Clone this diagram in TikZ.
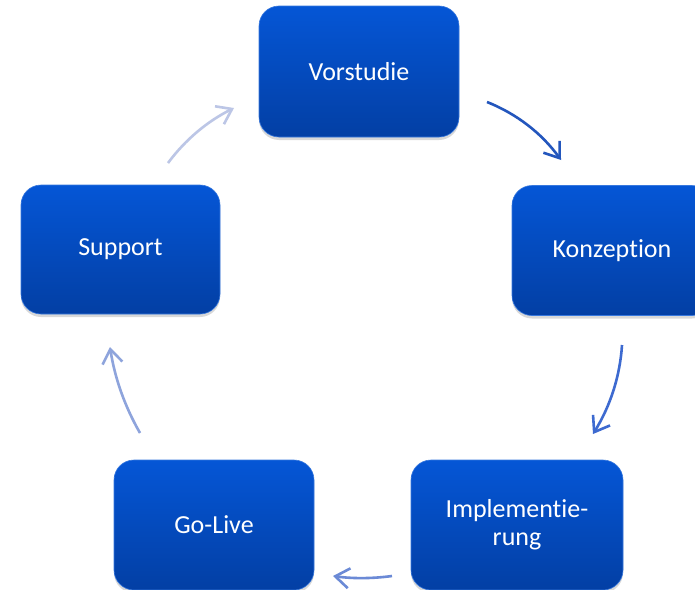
\documentclass[tikz,border=0pt]{standalone}
\usepackage{fontspec}
\setmainfont{Carlito}[Ligatures=NoCommon]
\usetikzlibrary{arrows.meta,shadows}
\definecolor{boxtop}{HTML}{0556D6}
\definecolor{boxbot}{HTML}{033FA4}
\definecolor{arrA}{HTML}{2356BD}
\definecolor{arrB}{HTML}{3D6AD0}
\definecolor{arrC}{HTML}{6B8AD6}
\definecolor{arrD}{HTML}{8EA4DC}
\definecolor{arrE}{HTML}{BCC6E6}
\tikzset{
  phase/.style={rectangle, rounded corners=20pt, top color=boxtop, bottom color=boxbot,
    draw=boxtop!80!white, line width=0.6pt, text=white, align=center,
    font=\fontsize{26}{28}\selectfont, minimum height=130pt,
    drop shadow={opacity=0.3, shadow xshift=0pt, shadow yshift=-3pt}},
  cyc/.style={line width=2.6pt, -{Straight Barb[length=14pt,width=20pt,line width=2.6pt]}}
}
\begin{document}
\begin{tikzpicture}[x=1pt,y=-1pt]
\useasboundingbox (0,0) rectangle (695,589);
\clip (0,0) rectangle (695,589);
\fill[white] (0,0) rectangle (695,589);
\node[phase, minimum width=200pt, minimum height=131pt] (vor) at (359,71.5) {Vorstudie};
\node[phase, minimum width=200pt] (kon) at (612,250.5) {Konzeption};
\node[phase, minimum width=199pt, minimum height=129pt] (sup) at (120.5,249.5) {Support};
\node[phase, minimum width=200pt] (go) at (214,525) {Go-Live};
\node[phase, minimum width=212pt] (imp) at (517,525) {Implementie-\\rung};
\coordinate (a1s) at (487,102); \coordinate (a1e) at (561,160);
\coordinate (a2s) at (622,345); \coordinate (a2e) at (593,434);
\coordinate (a3s) at (392,576); \coordinate (a3e) at (333,576);
\coordinate (a4s) at (140,433); \coordinate (a4e) at (110,347);
\coordinate (a5s) at (168,163); \coordinate (a5e) at (234,108);
\draw[cyc, arrA] (a1s) .. controls (517,114) and (541.7,133.3) .. (a1e);
\draw[cyc, arrB] (a2s) .. controls (620,376.3) and (610.3,406) .. (a2e);
\draw[cyc, arrC] (a3s) .. controls (372,578.7) and (352.3,578.7) .. (a3e);
\draw[cyc, arrD] (a4s) .. controls (124.7,406.3) and (114.7,377.7) .. (a4e);
\draw[cyc, arrE] (a5s) .. controls (185.3,139.7) and (207.3,121.3) .. (a5e);
\end{tikzpicture}
\end{document}
